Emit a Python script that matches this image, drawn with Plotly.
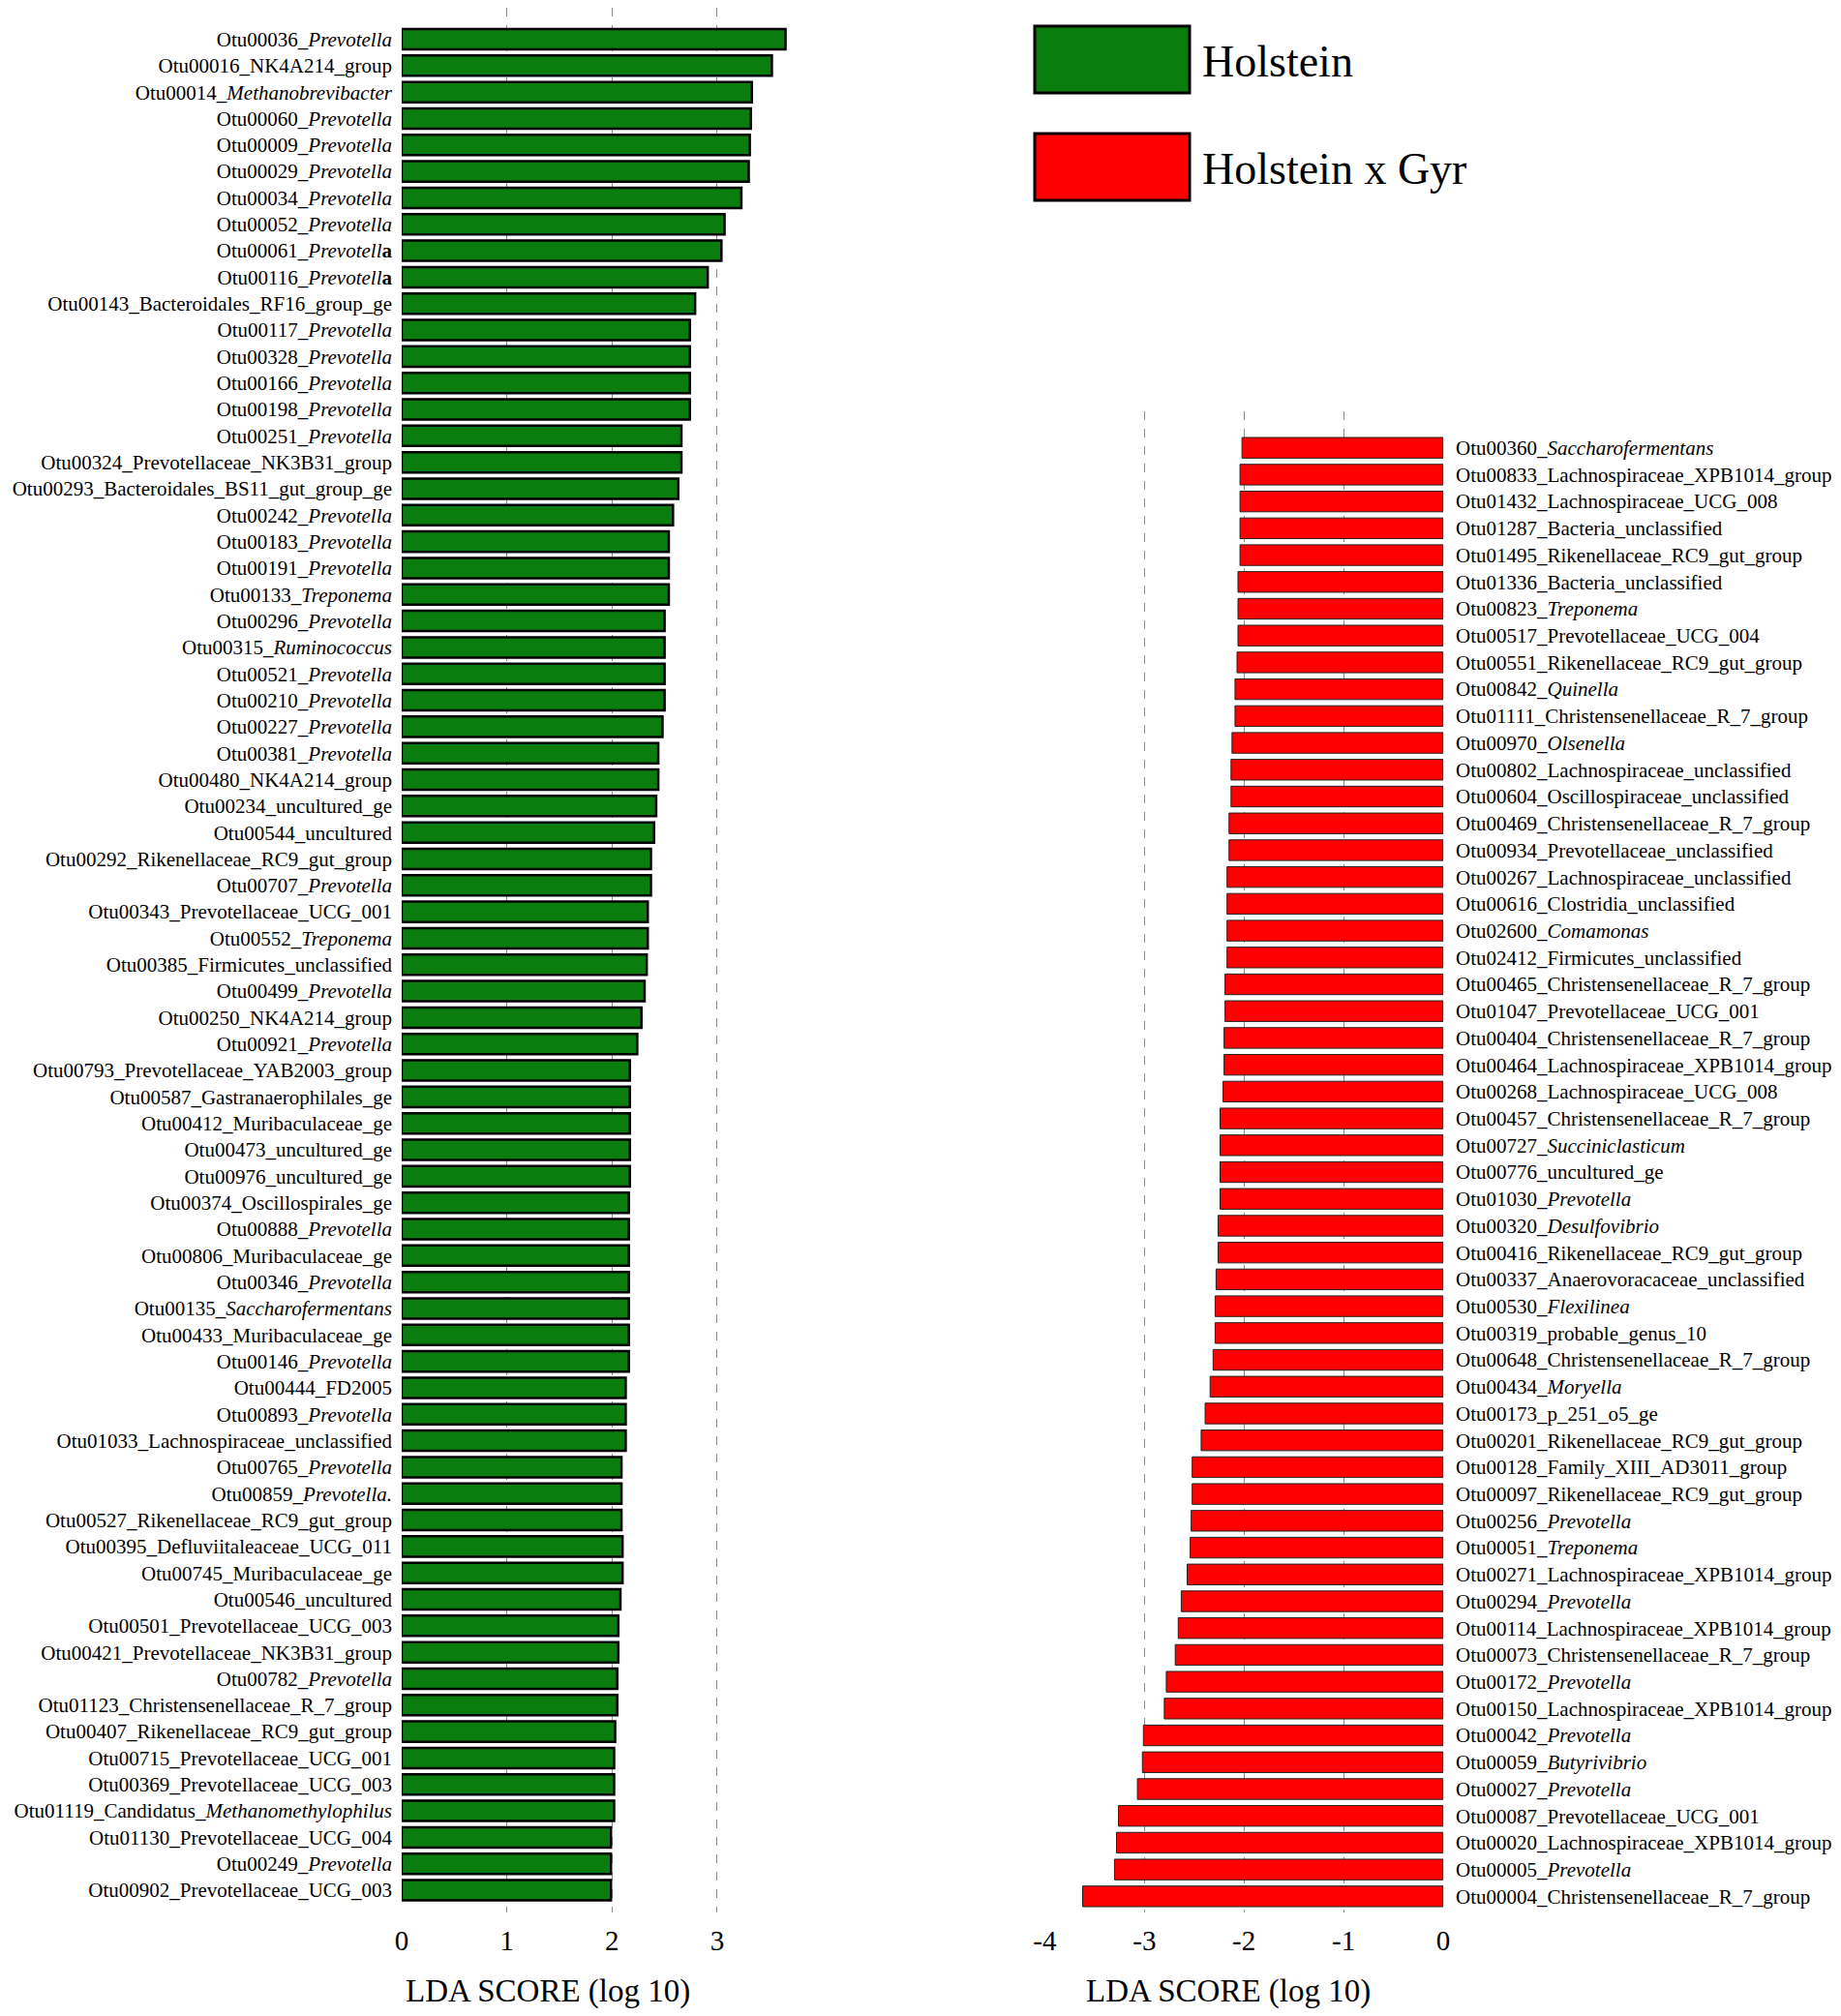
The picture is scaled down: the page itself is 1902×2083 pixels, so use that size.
import plotly.graph_objects as go

# reference canvas is 1902x2083; the page body has an 8px margin, so the figure is offset
PAGE_W, PAGE_H = 1902, 2083
OFF = 8
W, H = PAGE_W - OFF, PAGE_H - OFF

# ---------------- Holstein (left panel) ----------------
holstein_labels = [
    "Otu00036_<i>Prevotella</i>", "Otu00016_NK4A214_group", "Otu00014_<i>Methanobrevibacter</i>",
    "Otu00060_<i>Prevotella</i>", "Otu00009_<i>Prevotella</i>", "Otu00029_<i>Prevotella</i>",
    "Otu00034_<i>Prevotella</i>", "Otu00052_<i>Prevotella</i>", "Otu00061_<i>Prevotell</i><b>a</b>",
    "Otu00116_<i>Prevotell</i><b>a</b>", "Otu00143_Bacteroidales_RF16_group_ge", "Otu00117_<i>Prevotella</i>",
    "Otu00328_<i>Prevotella</i>", "Otu00166_<i>Prevotella</i>", "Otu00198_<i>Prevotella</i>",
    "Otu00251_<i>Prevotella</i>", "Otu00324_Prevotellaceae_NK3B31_group", "Otu00293_Bacteroidales_BS11_gut_group_ge",
    "Otu00242_<i>Prevotella</i>", "Otu00183_<i>Prevotella</i>", "Otu00191_<i>Prevotella</i>",
    "Otu00133_<i>Treponema</i>", "Otu00296_<i>Prevotella</i>", "Otu00315_<i>Ruminococcus</i>",
    "Otu00521_<i>Prevotella</i>", "Otu00210_<i>Prevotella</i>", "Otu00227_<i>Prevotella</i>",
    "Otu00381_<i>Prevotella</i>", "Otu00480_NK4A214_group", "Otu00234_uncultured_ge",
    "Otu00544_uncultured", "Otu00292_Rikenellaceae_RC9_gut_group", "Otu00707_<i>Prevotella</i>",
    "Otu00343_Prevotellaceae_UCG_001", "Otu00552_<i>Treponema</i>", "Otu00385_Firmicutes_unclassified",
    "Otu00499_<i>Prevotella</i>", "Otu00250_NK4A214_group", "Otu00921_<i>Prevotella</i>",
    "Otu00793_Prevotellaceae_YAB2003_group", "Otu00587_Gastranaerophilales_ge", "Otu00412_Muribaculaceae_ge",
    "Otu00473_uncultured_ge", "Otu00976_uncultured_ge", "Otu00374_Oscillospirales_ge",
    "Otu00888_<i>Prevotella</i>", "Otu00806_Muribaculaceae_ge", "Otu00346_<i>Prevotella</i>",
    "Otu00135_<i>Saccharofermentans</i>", "Otu00433_Muribaculaceae_ge", "Otu00146_<i>Prevotella</i>",
    "Otu00444_FD2005", "Otu00893_<i>Prevotella</i>", "Otu01033_Lachnospiraceae_unclassified",
    "Otu00765_<i>Prevotella</i>", "Otu00859_<i>Prevotella.</i>", "Otu00527_Rikenellaceae_RC9_gut_group",
    "Otu00395_Defluviitaleaceae_UCG_011", "Otu00745_Muribaculaceae_ge", "Otu00546_uncultured",
    "Otu00501_Prevotellaceae_UCG_003", "Otu00421_Prevotellaceae_NK3B31_group", "Otu00782_<i>Prevotella</i>",
    "Otu01123_Christensenellaceae_R_7_group", "Otu00407_Rikenellaceae_RC9_gut_group", "Otu00715_Prevotellaceae_UCG_001",
    "Otu00369_Prevotellaceae_UCG_003", "Otu01119_Candidatus_<i>Methanomethylophilus</i>", "Otu01130_Prevotellaceae_UCG_004",
    "Otu00249_<i>Prevotella</i>", "Otu00902_Prevotellaceae_UCG_003",
]
holstein_lda = [
    3.65, 3.52, 3.33, 3.32, 3.31, 3.30, 3.23, 3.07, 3.04, 2.91,
    2.79, 2.74, 2.74, 2.74, 2.74, 2.66, 2.66, 2.63, 2.58, 2.54,
    2.54, 2.54, 2.50, 2.50, 2.50, 2.50, 2.48, 2.44, 2.44, 2.42,
    2.40, 2.37, 2.37, 2.34, 2.34, 2.33, 2.31, 2.28, 2.24, 2.17,
    2.17, 2.17, 2.17, 2.17, 2.16, 2.16, 2.16, 2.16, 2.16, 2.16,
    2.16, 2.13, 2.13, 2.13, 2.09, 2.09, 2.09, 2.10, 2.10, 2.08,
    2.06, 2.06, 2.05, 2.05, 2.03, 2.02, 2.02, 2.02, 1.99, 1.99,
    1.99,
]

# ---------------- Holstein x Gyr (right panel) ----------------
gyr_labels = [
    "Otu00360_<i>Saccharofermentans</i>", "Otu00833_Lachnospiraceae_XPB1014_group", "Otu01432_Lachnospiraceae_UCG_008",
    "Otu01287_Bacteria_unclassified", "Otu01495_Rikenellaceae_RC9_gut_group", "Otu01336_Bacteria_unclassified",
    "Otu00823_<i>Treponema</i>", "Otu00517_Prevotellaceae_UCG_004", "Otu00551_Rikenellaceae_RC9_gut_group",
    "Otu00842_<i>Quinella</i>", "Otu01111_Christensenellaceae_R_7_group", "Otu00970_<i>Olsenella</i>",
    "Otu00802_Lachnospiraceae_unclassified", "Otu00604_Oscillospiraceae_unclassified", "Otu00469_Christensenellaceae_R_7_group",
    "Otu00934_Prevotellaceae_unclassified", "Otu00267_Lachnospiraceae_unclassified", "Otu00616_Clostridia_unclassified",
    "Otu02600_<i>Comamonas</i>", "Otu02412_Firmicutes_unclassified", "Otu00465_Christensenellaceae_R_7_group",
    "Otu01047_Prevotellaceae_UCG_001", "Otu00404_Christensenellaceae_R_7_group", "Otu00464_Lachnospiraceae_XPB1014_group",
    "Otu00268_Lachnospiraceae_UCG_008", "Otu00457_Christensenellaceae_R_7_group", "Otu00727_<i>Succiniclasticum</i>",
    "Otu00776_uncultured_ge", "Otu01030_<i>Prevotella</i>", "Otu00320_<i>Desulfovibrio</i>",
    "Otu00416_Rikenellaceae_RC9_gut_group", "Otu00337_Anaerovoracaceae_unclassified", "Otu00530_<i>Flexilinea</i>",
    "Otu00319_probable_genus_10", "Otu00648_Christensenellaceae_R_7_group", "Otu00434_<i>Moryella</i>",
    "Otu00173_p_251_o5_ge", "Otu00201_Rikenellaceae_RC9_gut_group", "Otu00128_Family_XIII_AD3011_group",
    "Otu00097_Rikenellaceae_RC9_gut_group", "Otu00256_<i>Prevotella</i>", "Otu00051_<i>Treponema</i>",
    "Otu00271_Lachnospiraceae_XPB1014_group", "Otu00294_<i>Prevotella</i>", "Otu00114_Lachnospiraceae_XPB1014_group",
    "Otu00073_Christensenellaceae_R_7_group", "Otu00172_<i>Prevotella</i>", "Otu00150_Lachnospiraceae_XPB1014_group",
    "Otu00042_<i>Prevotella</i>", "Otu00059_<i>Butyrivibrio</i>", "Otu00027_<i>Prevotella</i>",
    "Otu00087_Prevotellaceae_UCG_001", "Otu00020_Lachnospiraceae_XPB1014_group", "Otu00005_<i>Prevotella</i>",
    "Otu00004_Christensenellaceae_R_7_group",
]
gyr_lda = [
    -2.02, -2.04, -2.04, -2.04, -2.04, -2.06, -2.06, -2.06, -2.07, -2.09,
    -2.09, -2.12, -2.13, -2.13, -2.15, -2.15, -2.17, -2.17, -2.17, -2.17,
    -2.19, -2.19, -2.20, -2.20, -2.21, -2.24, -2.24, -2.24, -2.24, -2.26,
    -2.26, -2.28, -2.29, -2.29, -2.31, -2.34, -2.39, -2.43, -2.52, -2.52,
    -2.53, -2.54, -2.57, -2.63, -2.66, -2.69, -2.78, -2.80, -3.01, -3.02,
    -3.07, -3.26, -3.28, -3.30, -3.62,
]

left_ticks = [0, 1, 2, 3]
left_ticktext = ["0", "1", "2", "3"]
right_ticks = [-4, -3, -2, -1, 0]
right_ticktext = ["-4", "-3", "-2", "-1", "0"]
group_names = ["Holstein", "Holstein x Gyr"]
group_colors = ["#0A7D0E", "#FF0000"]
axis_title = "LDA SCORE (log 10)"

FONT = "Liberation Serif, Times New Roman, serif"


def px_x(p):
    return (p - OFF) / W


def px_y(p):
    return 1 - (p - OFF) / H


fig = go.Figure()
fig.add_trace(go.Bar(
    x=holstein_lda, y=holstein_labels, orientation="h",
    marker=dict(color=group_colors[0], line=dict(color="black", width=2.5)),
    xaxis="x", yaxis="y", showlegend=False,
))
fig.add_trace(go.Bar(
    x=gyr_lda, y=gyr_labels, orientation="h",
    marker=dict(color=group_colors[1], line=dict(color="#222222", width=1)),
    xaxis="x2", yaxis="y2", showlegend=False,
))

grid = dict(showgrid=True, gridcolor="#8c8c8c", gridwidth=1.2, griddash="dash",
            zeroline=False, showline=False, ticks="", automargin=False,
            tickfont=dict(family=FONT, size=29, color="black"), ticklabelstandoff=9)

n_left = len(holstein_labels)
n_right = len(gyr_labels)

fig.update_layout(
    width=W, height=H,
    margin=dict(l=0, r=0, t=0, b=0, autoexpand=False),
    paper_bgcolor="white", plot_bgcolor="white",
    font=dict(family=FONT, color="black"),
    bargap=0.23,
    xaxis=dict(domain=[px_x(415), px_x(817)], range=[0, 3.7], tickvals=left_ticks,
               ticktext=left_ticktext, anchor="y", **grid),
    yaxis=dict(domain=[px_y(1976), px_y(8)], type="category", categoryorder="array",
               categoryarray=holstein_labels, range=[n_left - 1 + 0.84, -1.19],
               showgrid=False, zeroline=False, showline=False, ticks="", automargin=False,
               tickfont=dict(family=FONT, size=21, color="black"), ticklabelstandoff=9,
               anchor="x"),
    xaxis2=dict(domain=[px_x(1079.4), px_x(1491)], range=[-4, 0], tickvals=right_ticks,
                ticktext=right_ticktext, anchor="y2", **grid),
    yaxis2=dict(domain=[px_y(1976), px_y(425)], type="category", categoryorder="array",
                categoryarray=gyr_labels, range=[n_right - 1 + 0.6, -1.36],
                showgrid=False, zeroline=False, showline=False, ticks="", side="right",
                automargin=False,
                tickfont=dict(family=FONT, size=21, color="black"), ticklabelstandoff=12,
                anchor="x2"),
)

# axis titles
fig.add_annotation(text=axis_title, xref="paper", yref="paper", x=px_x(566), y=px_y(2057),
                   showarrow=False, xanchor="center", yanchor="middle",
                   font=dict(family=FONT, size=33, color="black"))
fig.add_annotation(text=axis_title, xref="paper", yref="paper", x=px_x(1269), y=px_y(2057),
                   showarrow=False, xanchor="center", yanchor="middle",
                   font=dict(family=FONT, size=33, color="black"))

# legend (boxes + labels)
legend_boxes = [(27, 96), (138, 207)]
for (top, bot), name, col in zip(legend_boxes, group_names, group_colors):
    fig.add_shape(type="rect", xref="paper", yref="paper",
                  x0=px_x(1069), x1=px_x(1229), y0=px_y(bot), y1=px_y(top),
                  fillcolor=col, line=dict(color="black", width=3))
    fig.add_annotation(text=name, xref="paper", yref="paper",
                       x=px_x(1240), y=px_y((top + bot) / 2 + 2), showarrow=False,
                       xanchor="left", yanchor="middle",
                       font=dict(family=FONT, size=46, color="black"))

fig.write_html("out.html")
